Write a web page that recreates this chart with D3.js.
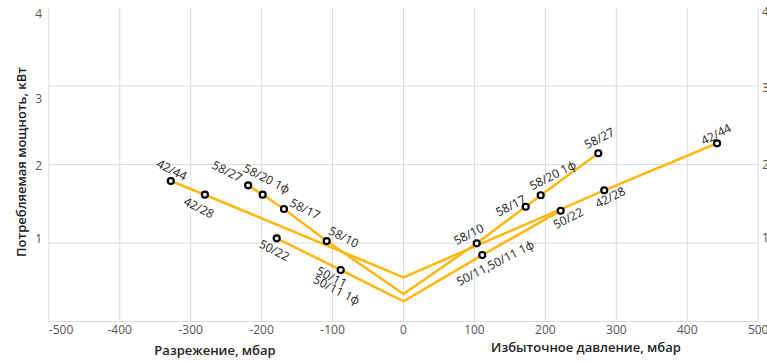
<!DOCTYPE html>
<html lang="ru">
<head>
<meta charset="utf-8">
<script src="https://d3js.org/d3.v7.min.js"></script>
<style>
    body { margin: 0; background: #fff; }
    svg { display: block; font-family: "Open Sans", sans-serif; }
    .grid line { stroke: #dcdcdc; stroke-width: 1; }
    .tick-label { font-size: 12px; fill: #555; }
    .axis-title { font-size: 13px; font-weight: 600; fill: #222; }
    .pt-label { font-size: 12px; fill: #222; }
</style>
</head>
<body>
<div id="chart"></div>
<script>
    // data: pressure (mbar) and power (kW)
    var pressure42 = [-328, -280, 0, 283, 442];
    var power42    = [1.79, 1.615, 0.562, 1.671, 2.27];
    var names42    = [["42/44"], ["42/28"], [], ["42/28"], ["42/44"]];

    var pressure58 = [-219, -198.5, -168.5, -108.3, 0, 103.2, 172.3, 193.4, 274.6];
    var power58    = [1.735, 1.615, 1.433, 1.025, 0.35, 0.996, 1.462, 1.608, 2.143];
    var names58    = [["58/27"], ["58/20 1ф"], ["58/17"], ["58/10"], [], ["58/10"], ["58/17"], ["58/20 1ф"], ["58/27"]];

    var pressure50 = [-178.7, -88.5, 0, 111, 221.6];
    var power50    = [1.06, 0.656, 0.257, 0.847, 1.411];
    var names50    = [["50/22"], ["50/11", "50/11 1ф"], [], ["50/11,50/11 1ф"], ["50/22"]];

    var xTicks = [-500, -400, -300, -200, -100, 0, 100, 200, 300, 400, 500];
    var yTicks = [1, 2, 3, 4];

    // label placement (centre of label relative to the point), layout only
    var offs42 = [[[1, -11]], [[-6, 13]], [], [[6, 7]], [[-1, -9]]];
    var offs58 = [[[-21, -14]], [[4, -16]], [[21, 0]], [[17, -4]], [], [[-8, -9]], [[-15, -1]], [[12, -20]], [[1, -15]]];
    var offs50 = [[[-2.5, 12]], [[-9, 7], [-4, 20]], [], [[13, 8]], [[7.5, 7.5]]];
    // tick label nudges, as in the picture
    var yNudgeLeft = [-4, 1.5, 13, 6.5];
    var yNudgeRight = [-5, 0.7, 2, 4.5];

    var width = 767, height = 363;
    var x = d3.scaleLinear().domain([-500, 500]).range([48.8, 758.2]);
    var y = d3.scaleLinear().domain([0, 4]).range([321.5, 7.5]);

    var svg = d3.select("#chart").append("svg")
        .attr("width", width)
        .attr("height", height);

    // grid
    var grid = svg.append("g").attr("class", "grid");
    grid.selectAll("line.v").data(xTicks).enter().append("line")
        .attr("x1", function(d) { return x(d); })
        .attr("x2", function(d) { return x(d); })
        .attr("y1", y(4))
        .attr("y2", y(0));
    grid.selectAll("line.h").data([0, 1, 2, 3]).enter().append("line")
        .attr("x1", x(-500))
        .attr("x2", x(500))
        .attr("y1", function(d) { return y(d); })
        .attr("y2", function(d) { return y(d); });

    // x tick labels
    svg.selectAll("text.xt").data(xTicks).enter().append("text")
        .attr("class", "tick-label")
        .attr("x", function(d) { return x(d); })
        .attr("y", 334)
        .attr("text-anchor", function(d, i) { return i == 0 ? "start" : "middle"; })
        .text(function(d) { return d; });

    // y tick labels, left and right (right ones run off the edge like the original)
    svg.selectAll("text.yl").data(yTicks).enter().append("text")
        .attr("class", "tick-label")
        .attr("x", 42)
        .attr("y", function(d, i) { return y(d) + yNudgeLeft[i]; })
        .attr("dy", "0.35em")
        .attr("text-anchor", "end")
        .text(function(d) { return d; });
    svg.selectAll("text.yr").data(yTicks).enter().append("text")
        .attr("class", "tick-label")
        .attr("x", 762)
        .attr("y", function(d, i) { return y(d) + yNudgeRight[i]; })
        .attr("dy", "0.35em")
        .attr("text-anchor", "start")
        .text(function(d) { return d; });

    // axis titles
    svg.append("text")
        .attr("class", "axis-title")
        .attr("transform", "translate(26,162) rotate(-90)")
        .attr("text-anchor", "middle")
        .text("Потребляемая мощноть, кВт");
    svg.append("text")
        .attr("class", "axis-title")
        .attr("x", 215).attr("y", 355)
        .attr("text-anchor", "middle")
        .text("Разрежение, мбар");
    svg.append("text")
        .attr("class", "axis-title")
        .attr("x", 586).attr("y", 352)
        .attr("text-anchor", "middle")
        .text("Избыточное давление, мбар");

    var line = d3.line()
        .x(function(d) { return x(d.p); })
        .y(function(d) { return y(d.w); });

    function drawSeries(pressure, power, names, offs) {
        var pts = pressure.map(function(p, i) {
            return {p: p, w: power[i], names: names[i], offs: offs[i]};
        });
        svg.append("path")
            .datum(pts)
            .attr("fill", "none")
            .attr("stroke", "#fdb813")
            .attr("stroke-width", 2.6)
            .attr("d", line);
        return pts;
    }

    var all = []
        .concat(drawSeries(pressure42, power42, names42, offs42))
        .concat(drawSeries(pressure58, power58, names58, offs58))
        .concat(drawSeries(pressure50, power50, names50, offs50));

    var marked = all.filter(function(d) { return d.names.length > 0; });

    svg.selectAll("circle.pt").data(marked).enter().append("circle")
        .attr("cx", function(d) { return x(d.p); })
        .attr("cy", function(d) { return y(d.w); })
        .attr("r", 3)
        .attr("fill", "#fff")
        .attr("stroke", "#000")
        .attr("stroke-width", 2.2);

    marked.forEach(function(d) {
        d.names.forEach(function(name, k) {
            var o = d.offs[k];
            var ang = d.p < 0 ? 27 : -27;
            svg.append("text")
                .attr("class", "pt-label")
                .attr("transform", "translate(" + (x(d.p) + o[0]) + "," + (y(d.w) + o[1]) + ") rotate(" + ang + ")")
                .attr("text-anchor", "middle")
                .attr("dy", "0.35em")
                .text(name);
        });
    });
</script>
</body>
</html>
